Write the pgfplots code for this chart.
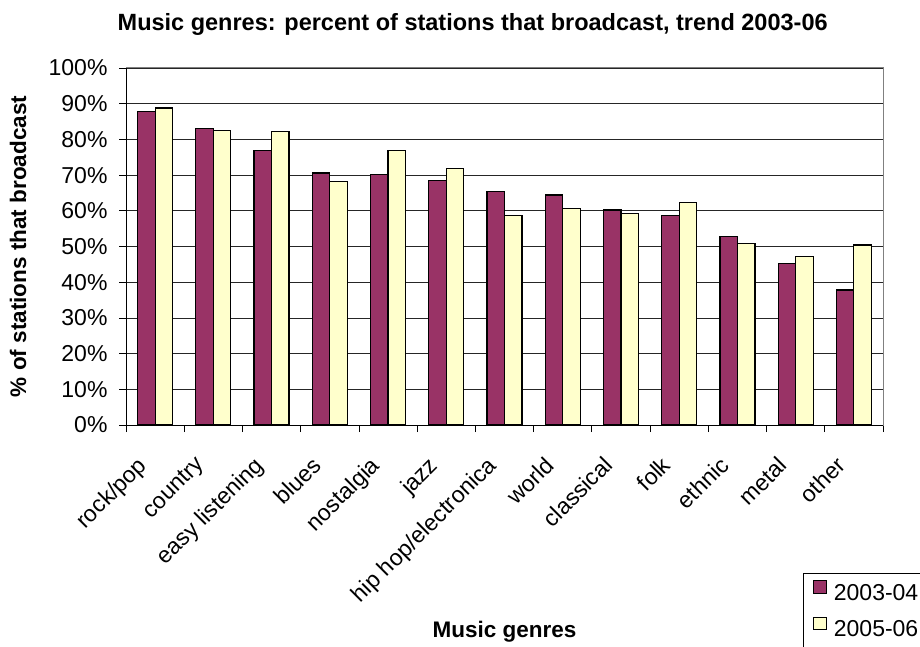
\documentclass[border=0pt]{standalone}
\usepackage{pgfplots}
\pgfplotsset{compat=1.18}
\usepackage{fontspec}
\setmainfont{Liberation Sans}
\definecolor{barA}{HTML}{993366}
\definecolor{barB}{HTML}{FFFFCC}
\pgfplotstableread{
x a b
0 87.8 88.8
1 83.1 82.6
2 76.9 82.2
3 70.6 68.1
4 70.1 76.9
5 68.5 71.8
6 65.4 58.6
7 64.4 60.7
8 60.2 59.2
9 58.6 62.4
10 52.9 50.9
11 45.2 47.3
12 37.8 50.4
}\datatable
\begin{document}
\begin{tikzpicture}[x=1pt,y=1pt]
\begin{axis}[
  at={(126pt,221pt)}, anchor=south west,
  scale only axis, width=757pt, height=357pt,
  xmin=-0.5, xmax=12.5, ymin=0, ymax=100,
  ybar=0pt, bar width=17.5pt,
  xtick={0,...,12},
  xticklabels={rock/pop,country,easy listening,blues,nostalgia,jazz,hip hop/electronica,world,classical,folk,ethnic,metal,other},
  major x tick style={draw=none},
  minor xtick={-0.5,0.5,...,12.5},
  minor x tick style={black, line width=0.8pt},
  ytick={0,10,...,100},
  yticklabels={0\%,10\%,20\%,30\%,40\%,50\%,60\%,70\%,80\%,90\%,100\%},
  major y tick style={black, line width=0.8pt},
  xtick pos=left, ytick pos=left,
  tick align=outside, major tick length=7pt, minor tick length=7pt,
  ymajorgrids, major grid style={black!85, line width=0.8pt},
  axis line style={draw=gray, line width=1pt},
  tick label style={font=\fontsize{23}{27}\selectfont},
  yticklabel style={xshift=-8pt},
  xticklabel style={anchor=north east, inner sep=0pt, xshift=-19pt, yshift=-23pt, rotate=45},
  title={Music genres: percent of stations that broadcast, trend 2003-06},
  title style={font=\bfseries\fontsize{23.5}{28}\selectfont, at={(axis description cs:0.458,1.106)}, anchor=center},
  xlabel={Music genres},
  xlabel style={font=\bfseries\fontsize{22.5}{27}\selectfont, at={(axis description cs:0.5,-0.58)}, anchor=center},
  ylabel={\% of stations that broadcast},
  ylabel style={font=\bfseries\fontsize{22.5}{27}\selectfont, at={(axis description cs:-0.1427,0.5)}, anchor=center},
  legend style={at={(axis description cs:0.8943,-0.4146)}, anchor=north west, draw=black, fill=white,
    font=\fontsize{23}{27}\selectfont, inner xsep=10pt, inner ysep=7pt, row sep=13pt, line width=0.8pt,
    /tikz/every odd column/.append style={column sep=5pt}},
  legend cell align=left,
]
\addplot[fill=barA, draw=black, line width=1.2pt,
  legend image code/.code={\draw[fill=barA,draw=black,line width=1pt] (0pt,-0.5pt) rectangle (12.5pt,12pt);}]
  table[x=x,y=a]{\datatable};
\addlegendentry{2003-04}
\addplot[fill=barB, draw=black, line width=1.2pt,
  legend image code/.code={\draw[fill=barB,draw=black,line width=1pt] (0pt,-0.5pt) rectangle (12.5pt,12pt);}]
  table[x=x,y=b]{\datatable};
\addlegendentry{2005-06}
\draw[black, line width=1pt] (rel axis cs:0,0) -- (rel axis cs:0,1);
\draw[black, line width=1pt] (rel axis cs:0,0) -- (rel axis cs:1,0);
\end{axis}
\pgfresetboundingbox
\useasboundingbox (0,0) rectangle (920,646);
\end{tikzpicture}
\end{document}
